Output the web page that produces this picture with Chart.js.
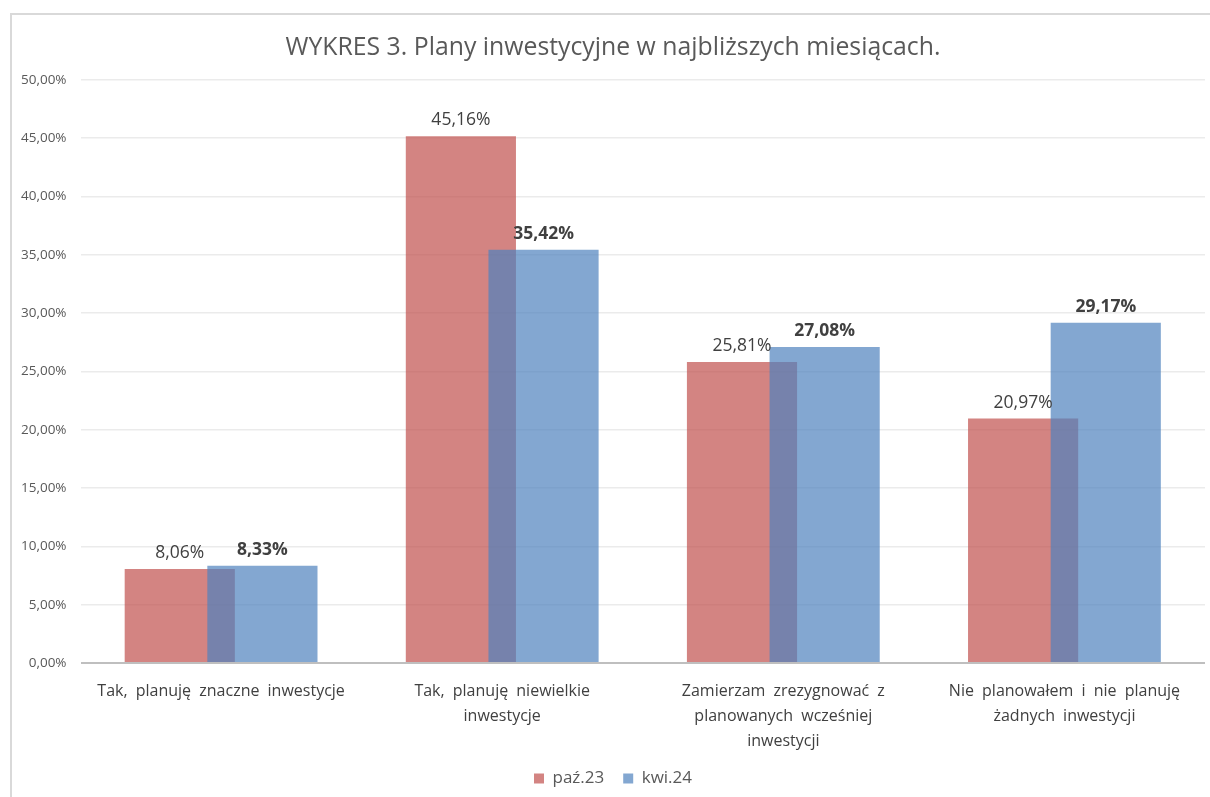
<!DOCTYPE html>
<html>
<head>
<meta charset="utf-8">
<script src="https://cdn.jsdelivr.net/npm/chart.js@4"></script>
<style>
    html, body { margin: 0; padding: 0; background: #fff; overflow: hidden; }
    #frame {
        position: absolute; left: 10px; top: 13px;
        width: 1220px; height: 800px;
        border-left: 2px solid #d9d9d9; border-top: 2px solid #d9d9d9;
        box-sizing: border-box;
    }
    #box { position: absolute; left: 0; top: 0; width: 1193px; height: 782px; }
</style>
</head>
<body>
<div id="frame"><div id="box"><canvas id="chart"></canvas></div></div>
<script>
const categories = [
    ['Tak, planuję znaczne inwestycje'],
    ['Tak, planuję niewielkie', 'inwestycje'],
    ['Zamierzam zrezygnować z', 'planowanych wcześniej', 'inwestycji'],
    ['Nie planowałem i nie planuję', 'żadnych inwestycji']
];
const seriesNames = ['paź.23', 'kwi.24'];
const oct23 = [8.06, 45.16, 25.81, 20.97];
const apr24 = [8.33, 35.42, 27.08, 29.17];

const fmt = v => v.toFixed(2).replace('.', ',') + '%';
const FONT = "'Open Sans', sans-serif";

// value labels above bars, second series bold
const valueLabels = {
    id: 'valueLabels',
    afterDatasetsDraw(chart) {
        const ctx = chart.ctx;
        ctx.save();
        ctx.textAlign = 'center';
        ctx.textBaseline = 'bottom';
        ctx.fillStyle = '#404040';
        chart.data.datasets.forEach((ds, i) => {
            const meta = chart.getDatasetMeta(i);
            ctx.font = (i === 1 ? 'bold ' : '') + '17.5px ' + FONT;
            meta.data.forEach((bar, j) => {
                ctx.fillText(fmt(ds.data[j]), bar.x, bar.y - 7);
            });
        });
        ctx.restore();
    }
};

// chart.js paints dataset 0 last; here the blue series has to sit on top
const blueOnTop = {
    id: 'blueOnTop',
    beforeDatasetDraw(chart, args) {
        if (args.index === 1) return false;
    },
    afterDatasetDraw(chart, args) {
        if (args.index === 0) chart.getDatasetMeta(1).controller.draw();
    }
};

// wider gaps between words in the category labels only
const spacedLabels = {
    id: 'spacedLabels',
    afterLayout(chart) {
        const s = chart.scales.x;
        if (s.$spaced) return;
        const base = Object.getPrototypeOf(s).drawLabels;
        s.drawLabels = function (area) {
            this.ctx.save();
            this.ctx.wordSpacing = '4px';
            base.call(this, area);
            this.ctx.restore();
        };
        s.$spaced = true;
    }
};

new Chart(document.getElementById('chart'), {
    type: 'bar',
    data: {
        labels: categories,
        datasets: [{
            label: seriesNames[0],
            data: oct23,
            backgroundColor: 'rgba(192, 80, 77, 0.7)',
            borderWidth: 0
        }, {
            label: seriesNames[1],
            data: apr24,
            backgroundColor: 'rgba(79, 129, 189, 0.7)',
            borderWidth: 0
        }]
    },
    options: {
        responsive: true,
        maintainAspectRatio: false,
        animation: false,
        categoryPercentage: 0.588,
        barPercentage: 1.333,
        layout: { padding: { left: 9, right: 0, top: 12, bottom: 0 } },
        plugins: {
            title: {
                display: true,
                text: 'WYKRES 3. Plany inwestycyjne w najbliższych miesiącach.',
                color: '#595959',
                font: { family: FONT, size: 24.8, weight: 'normal' },
                padding: { top: 6, bottom: 17 }
            },
            legend: {
                position: 'bottom',
                labels: {
                    color: '#595959',
                    font: { family: FONT, size: 17 },
                    boxWidth: 10,
                    boxHeight: 10,
                    padding: 19
                }
            },
            tooltip: { enabled: false }
        },
        scales: {
            y: {
                min: 0,
                max: 50,
                afterFit: scale => { scale.width -= 14; },
                ticks: {
                    stepSize: 5,
                    color: '#595959',
                    padding: 14,
                    font: { family: FONT, size: 13.5 },
                    callback: v => fmt(v)
                },
                grid: {
                    drawTicks: false,
                    color: c => c.tick.value === 0 ? '#bfbfbf' : '#ebebeb',
                    lineWidth: c => c.tick.value === 0 ? 2 : 1.5
                },
                border: { display: false }
            },
            x: {
                afterFit: scale => {
                    scale.paddingLeft = 0;
                    scale.paddingRight = 0;
                    scale.height -= 19;
                },
                ticks: {
                    color: '#404040',
                    padding: 16,
                    font: { family: FONT, size: 16, lineHeight: 1.5625 },
                    maxRotation: 0,
                    autoSkip: false
                },
                grid: { display: false, drawTicks: false },
                border: { display: false }
            }
        }
    },
    plugins: [valueLabels, blueOnTop, spacedLabels]
});
</script>
</body>
</html>
